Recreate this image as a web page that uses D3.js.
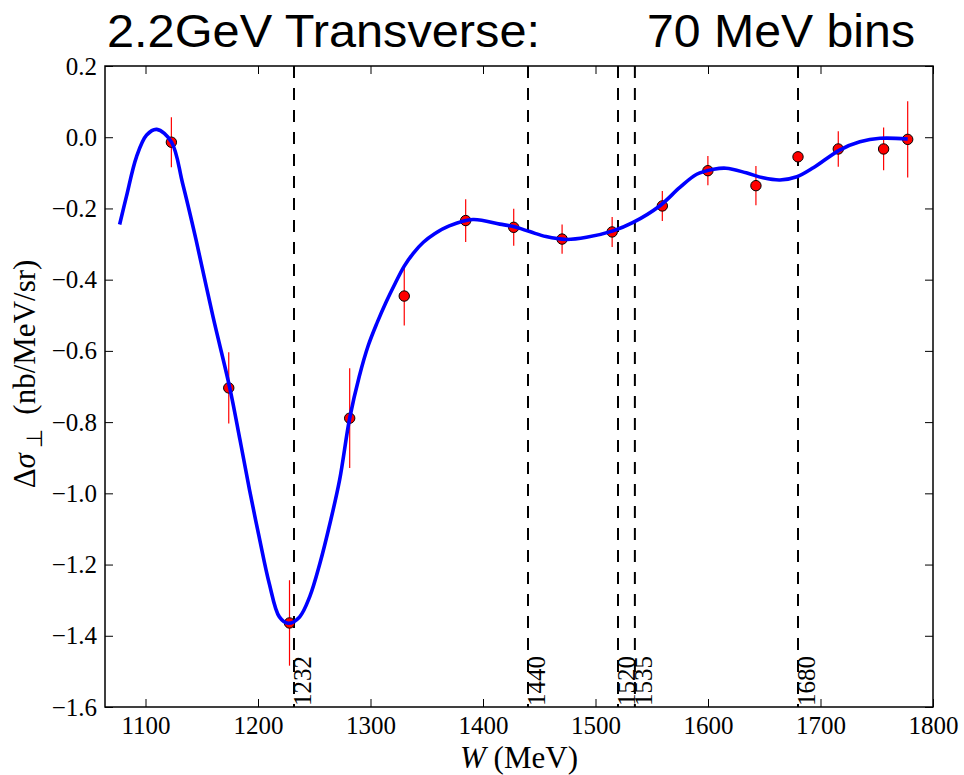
<!DOCTYPE html>
<meta charset="utf-8">
<style>
body { margin: 0; background: #fff; }
.tick line { stroke: #000; stroke-width: 1px; }
.title { font-family: "Liberation Sans", Helvetica, Arial, sans-serif; font-size: 47px; fill: #000; }
.lab { font-family: "Liberation Serif", "Times New Roman", serif; font-size: 31px; fill: #000; }
.res { font-family: "Liberation Serif", "Times New Roman", serif; font-size: 25px; fill: #000; }
</style>
<body>
<div id="chart"></div>
<script src="https://cdn.jsdelivr.net/npm/d3@7"></script>
<script>
// measured points (W in MeV, delta sigma perp, error)
var W     = [1123, 1174, 1228, 1281.5, 1330, 1384.6, 1427.3, 1470.3, 1514.8, 1559.4, 1599.9, 1642.6, 1680, 1715.8, 1756.1, 1777.5];
var sigma = [-0.014, -0.704, -1.364, -0.789, -0.446, -0.234, -0.253, -0.286, -0.266, -0.193, -0.094, -0.136, -0.055, -0.033, -0.033, -0.006];
var err   = [0.07, 0.10, 0.12, 0.14, 0.083, 0.06, 0.052, 0.041, 0.042, 0.042, 0.041, 0.055, 0.0, 0.05, 0.06, 0.107];

// fitted curve
var fitW     = [1077, 1083, 1092, 1101, 1110, 1123, 1133, 1145, 1160, 1175, 1184, 1192.5, 1201, 1210, 1219, 1227, 1237, 1246, 1255, 1264, 1272.5, 1281.5, 1290, 1298, 1306, 1314, 1322, 1330, 1338, 1347, 1357, 1370, 1391, 1415, 1427, 1441.5, 1456, 1474, 1492, 1515.6, 1533, 1557, 1575, 1590, 1605, 1616, 1634, 1649, 1664, 1679, 1694, 1717, 1735, 1753, 1777.5];
var fitSigma = [-0.245, -0.167, -0.055, 0.006, 0.022, -0.013, -0.13, -0.289, -0.504, -0.705, -0.85, -0.991, -1.122, -1.253, -1.347, -1.365, -1.347, -1.29, -1.197, -1.084, -0.963, -0.789, -0.672, -0.585, -0.52, -0.462, -0.41, -0.362, -0.326, -0.295, -0.271, -0.249, -0.231, -0.244, -0.251, -0.265, -0.279, -0.287, -0.281, -0.263, -0.24, -0.193, -0.141, -0.104, -0.09, -0.087, -0.1, -0.114, -0.12, -0.111, -0.085, -0.036, -0.013, -0.003, -0.005];

// resonances
var resonances = [1232, 1440, 1520, 1535, 1680];

var xTicks = [1100, 1200, 1300, 1400, 1500, 1600, 1700, 1800];
var yTicks = [-1.6, -1.4, -1.2, -1.0, -0.8, -0.6, -0.4, -0.2, 0.0, 0.2];

var serif = "'Liberation Serif', 'Times New Roman', serif";

var Width = 964, Height = 775;
var margin = {top: 66, right: 31, bottom: 68, left: 105},
    width = Width - margin.left - margin.right,
    height = Height - margin.top - margin.bottom;

var svg = d3.select("#chart").append("svg")
    .attr("width", Width)
    .attr("height", Height);

var g = svg.append("g")
    .attr("transform", "translate(" + margin.left + "," + margin.top + ")");

var x = d3.scaleLinear().domain([1064, 1800]).range([0, width]);
var y = d3.scaleLinear().domain([-1.6, 0.2]).range([height, 0]);
var fmt = d3.format(".1f");

// resonance lines
g.selectAll(".resline")
    .data(resonances)
  .enter().append("line")
    .attr("class", "resline")
    .attr("x1", function(d) { return x(d); })
    .attr("x2", function(d) { return x(d); })
    .attr("y1", 0)
    .attr("y2", height)
    .style("stroke", "#000")
    .style("stroke-width", 2)
    .style("stroke-dasharray", "12,10");

g.selectAll(".reslabel")
    .data(resonances)
  .enter().append("text")
    .attr("class", "res")
    .style("font-family", serif)
    .attr("transform", function(d) { return "translate(" + (x(d) + 17) + "," + (height - 1) + ")rotate(-90)"; })
    .text(function(d) { return d; });

// error bars
g.selectAll(".err")
    .data(W)
  .enter().append("line")
    .attr("x1", function(d) { return x(d); })
    .attr("x2", function(d) { return x(d); })
    .attr("y1", function(d, i) { return y(sigma[i] - err[i]); })
    .attr("y2", function(d, i) { return y(sigma[i] + err[i]); })
    .style("stroke", "#ff0000")
    .style("stroke-width", 1.2);

g.selectAll(".pt")
    .data(W)
  .enter().append("circle")
    .attr("cx", function(d) { return x(d); })
    .attr("cy", function(d, i) { return y(sigma[i]); })
    .attr("r", 5.2)
    .style("fill", "#ff0000")
    .style("stroke", "#000")
    .style("stroke-width", 1);

// fit curve
var line = d3.line()
    .x(function(d) { return x(d); })
    .y(function(d, i) { return y(fitSigma[i]); })
    .curve(d3.curveCatmullRom.alpha(0.5));

g.append("path")
    .attr("d", line(fitW))
    .style("fill", "none")
    .style("stroke", "#0000ff")
    .style("stroke-width", 3.6);

// axes, ticks pointing inwards on all four sides
function tickFont(a) {
  a.select(".domain").remove();
  a.selectAll("text")
      .style("font-family", serif)
      .style("font-size", "25px")
      .style("fill", "#000");
}

g.append("g")
    .attr("transform", "translate(0," + height + ")")
    .call(d3.axisBottom(x).tickValues(xTicks).tickSizeInner(-8).tickSizeOuter(0).tickFormat(d3.format("d")))
    .call(tickFont)
    .call(function(a) { a.selectAll("text").attr("y", 9).attr("dy", "0.71em"); });

g.append("g")
    .call(d3.axisTop(x).tickValues(xTicks).tickSizeInner(-8).tickSizeOuter(0).tickFormat(""))
    .call(tickFont);

g.append("g")
    .call(d3.axisLeft(y).tickValues(yTicks).tickSizeInner(-8).tickSizeOuter(0).tickFormat(fmt))
    .call(tickFont)
    .call(function(a) { a.selectAll("text").attr("x", -8); });

g.append("g")
    .attr("transform", "translate(" + width + ",0)")
    .call(d3.axisRight(y).tickValues(yTicks).tickSizeInner(-8).tickSizeOuter(0).tickFormat(""))
    .call(tickFont);

g.append("rect")
    .attr("width", width)
    .attr("height", height)
    .style("fill", "none")
    .style("stroke", "#000")
    .style("stroke-width", 1.5);

// labels
svg.append("text")
    .attr("class", "title")
    .attr("x", 107)
    .attr("y", 47)
    .attr("textLength", 433)
    .attr("lengthAdjust", "spacingAndGlyphs")
    .text("2.2GeV Transverse:");

svg.append("text")
    .attr("class", "title")
    .attr("x", 647)
    .attr("y", 47)
    .attr("textLength", 268)
    .attr("lengthAdjust", "spacingAndGlyphs")
    .text("70 MeV bins");

var xl = svg.append("text")
    .attr("class", "lab")
    .attr("x", margin.left + width / 2)
    .attr("y", 768)
    .style("text-anchor", "middle");
xl.append("tspan").style("font-style", "italic").text("W");
xl.append("tspan").text(" (MeV)");

var yl = svg.append("text")
    .attr("class", "lab")
    .attr("transform", "translate(35,374)rotate(-90)")
    .style("text-anchor", "middle");
yl.append("tspan").text("\u0394");
yl.append("tspan").style("font-style", "italic").text("\u03c3");
yl.append("tspan").attr("dy", 7).style("font-size", "22px").text(" \u22a5");
yl.append("tspan").attr("dy", -7).attr("dx", 14).text("(nb/MeV/sr)");
</script>
</body>
